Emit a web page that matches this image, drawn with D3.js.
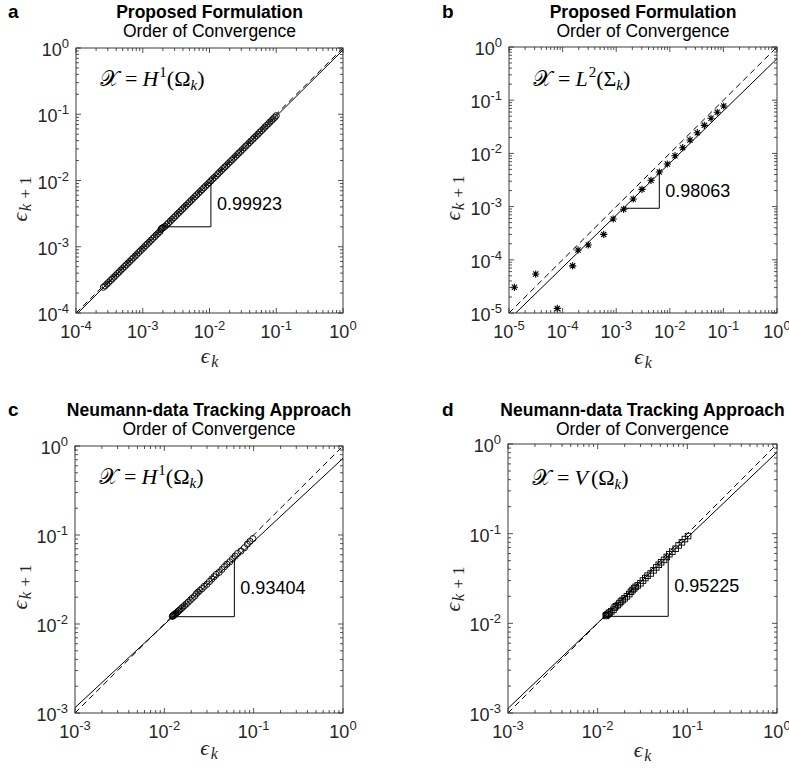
<!DOCTYPE html>
<html><head><meta charset="utf-8">
<script src="https://cdn.jsdelivr.net/npm/d3@7"></script>
<style>body{margin:0;background:#fff}svg{display:block}</style>
</head><body><svg id="c" width="789" height="773"></svg>
<script>
// ---------------- DATA ----------------
// panel a: error sequence eps_k (points are (eps_k, eps_{k+1}))
const seqA = [0.1000,0.0952,0.0899,0.0851,0.0803,0.0760,0.0716,0.0676,0.0640,0.0601,
0.0566,0.0535,0.0502,0.0473,0.0447,0.0420,0.0396,0.0373,0.0351,0.0331,
0.0312,0.0294,0.0276,0.0260,0.0245,0.0231,0.0217,0.0204,0.0192,0.0181,
0.0170,0.0160,0.0151,0.0142,0.0134,0.0126,0.0118,0.0111,0.0105,0.00985,
0.00928,0.00872,0.00821,0.00773,0.00727,0.00684,0.00644,0.00606,0.00570,0.00537,
0.00505,0.00476,0.00447,0.00421,0.00396,0.00373,0.00351,0.00330,0.00311,0.00292,
0.00275,0.00259,0.00244,0.00229,0.00216,0.00203,0.00196,0.00191,0.00187,0.00180,
0.00169,0.00159,0.00150,0.00141,0.00133,0.00125,0.00117,0.00110,0.00104,0.000978,
0.000920,0.000866,0.000815,0.000767,0.000721,0.000679,0.000639,0.000601,0.000566,0.000532,
0.000501,0.000471,0.000444,0.000417,0.000393,0.000370,0.000348,0.000327,0.000308,0.000290,
0.000273,0.000257,0.000245];
// panel b: explicit points
const bX = [1.26e-5,3.15e-5,7.96e-5,1.54e-4,1.94e-4,3.01e-4,5.85e-4,8.8e-4,1.38e-3,2.08e-3,3.03e-3,
4.46e-3,6.37e-3,8.97e-3,1.25e-2,1.74e-2,2.38e-2,3.26e-2,4.41e-2,5.88e-2,7.69e-2,0.1014];
const bY = [3.04e-5,5.4e-5,1.22e-5,7.7e-5,1.53e-4,1.9e-4,3.0e-4,5.85e-4,8.9e-4,1.39e-3,2.11e-3,
3.12e-3,4.47e-3,6.32e-3,9.05e-3,1.28e-2,1.79e-2,2.45e-2,3.37e-2,4.57e-2,5.93e-2,7.78e-2];
// panel c: error sequence
const seqC = [0.098,0.091,0.085,0.079,0.072,0.066,0.062,0.058,0.054,0.050,0.047,0.044,0.041,0.038,
0.036,0.034,0.032,0.030,0.028,0.0265,0.025,0.0238,0.0228,0.0218,0.0205,0.0195,0.0185,0.0176,0.0168,
0.0161,0.0155,0.0149,0.0144,0.0140,0.0136,0.0133,0.0130,0.0128,0.0126,0.0124,0.0123,0.0122];
// panel d: error sequence
const seqD = [0.102,0.094,0.087,0.080,0.074,0.068,0.063,0.059,0.055,0.051,0.048,0.045,0.042,0.039,
0.036,0.034,0.032,0.030,0.028,0.0265,0.0255,0.0245,0.0235,0.0225,0.0212,0.020,0.019,0.0182,0.0175,
0.0168,0.0160,0.0155,0.0150,0.0142,0.0136,0.0132,0.0128,0.0125,0.0123,0.0121];
// fit lines  y = C * x^p
const slopes = [0.99923, 0.98063, 0.93404, 0.95225];
const fitC = [0.933, 0.603, 0.728, 0.81];
// slope triangle anchors (horizontal leg level, vertical leg position)
const triY1 = [2.0e-3, 9.3e-4, 0.01208, 0.01197];
const triX2 = [1.05e-2, 6.37e-3, 0.0608, 0.0612];
// axis domains (exponents)
const domLo = [-4, -5, -3, -3];
const domHi = [0, 0, 0, 0];
const letters = ["a","b","c","d"];
const titles1 = ["Proposed Formulation","Proposed Formulation","Neumann-data Tracking Approach","Neumann-data Tracking Approach"];
const title2 = "Order of Convergence";
const markerType = ["circle","star","circle","square"];
// annotation segments: [text, style]
const annots = [
  [["𝒳","s"],["=","eq"],["H","i"],["1","sup"],["(Ω","n"],["k","sub"],[")","n"]],
  [["𝒳","s"],["=","eq"],["L","i"],["2","sup"],["(Σ","n"],["k","sub"],[")","n"]],
  [["𝒳","s"],["=","eq"],["H","i"],["1","sup"],["(Ω","n"],["k","sub"],[")","n"]],
  [["𝒳","s"],["=","eq"],["V","i"],["(Ω","n2"],["k","sub"],[")","n"]]
];

function pairs(seq){ const o=[]; for(let i=0;i<seq.length-1;i++) o.push([seq[i],seq[i+1]]); return o; }
const points = [pairs(seqA), bX.map((x,i)=>[x,bY[i]]), pairs(seqC), pairs(seqD)];

// ---------------- LAYOUT ----------------
const L = [
 {x0:76,x1:343,y0:48,y1:313, tY1:17.5,tY2:36.5, letX:8,  xlabY:363, ylabX:27,  ylabY:199, anY:86},
 {x0:509,x1:777,y0:47,y1:313, tY1:17.5,tY2:36.5, letX:442,xlabY:364, ylabX:460, ylabY:198, anY:86},
 {x0:75,x1:343,y0:446,y1:713, tY1:416,tY2:435, letX:8,  xlabY:755, ylabX:27,  ylabY:587, anY:484},
 {x0:508,x1:777,y0:444,y1:713, tY1:416,tY2:435, letX:442,xlabY:757, ylabX:460, ylabY:589, anY:485}
];
const AX = "#262626";
const SANS = "'Liberation Sans', Arial, Helvetica, sans-serif";
const SERIF = "'Liberation Serif', 'DejaVu Serif', serif";
const svg = d3.select("#c");

function tickLabel(g, x, y, exp, anchor){
  const t = g.append("text").attr("x",x).attr("y",y).attr("text-anchor",anchor)
    .attr("font-family",SANS).attr("font-size",18).attr("fill",AX);
  t.append("tspan").text("10");
  t.append("tspan").attr("dy",-8).attr("font-size",13).text(String(exp));
}

function epsLabel(g, sub, attrs, subSize){
  const t = g.append("text").attr("font-family",SERIF).attr("font-size",22).attr("fill",AX);
  Object.entries(attrs).forEach(([k,v])=>t.attr(k,v));
  t.append("tspan").attr("font-style","italic").text("ϵ");
  sub.forEach((s,i)=>{
    const ts=t.append("tspan").attr("font-size",subSize).text(s[0]);
    if(i===0) ts.attr("dy",4).attr("dx",1.5);
    if(s[1]) ts.attr("font-style","italic");
    if(s[2]) ts.attr("dx",s[2]);
  });
  return t;
}

points.forEach((pts, i) => {
  const b = L[i];
  const g = svg.append("g");
  const x = d3.scaleLog().domain([10**domLo[i], 10**domHi[i]]).range([b.x0, b.x1]);
  const y = d3.scaleLog().domain([10**domLo[i], 10**domHi[i]]).range([b.y1, b.y0]);
  const cx = (b.x0+b.x1)/2;

  // titles
  g.append("text").attr("x",b.letX).attr("y",b.tY1).attr("font-family",SANS).attr("font-weight","bold")
    .attr("font-size",19).attr("fill","#000").text(letters[i]);
  g.append("text").attr("x",cx).attr("y",b.tY1).attr("text-anchor","middle").attr("font-family",SANS)
    .attr("font-weight","bold").attr("font-size",17.5).attr("fill","#000").text(titles1[i]);
  g.append("text").attr("x",cx).attr("y",b.tY2).attr("text-anchor","middle").attr("font-family",SANS)
    .attr("font-size",17.5).attr("fill","#000").text(title2);

  // clip
  const cid = "clip"+i;
  svg.append("clipPath").attr("id",cid).append("rect").attr("x",b.x0).attr("y",b.y0)
    .attr("width",b.x1-b.x0).attr("height",b.y1-b.y0);
  const plot = g.append("g").attr("clip-path",`url(#${cid})`);

  // markers
  const mk = plot.append("g").attr("stroke","#000").attr("fill","none").attr("stroke-width",0.9);
  pts.forEach(([px,py])=>{
    const X=x(px), Y=y(py);
    if(markerType[i]==="circle"){
      mk.append("circle").attr("cx",X).attr("cy",Y).attr("r",3.1);
    } else if(markerType[i]==="square"){
      mk.append("rect").attr("x",X-2.8).attr("y",Y-2.8).attr("width",5.6).attr("height",5.6);
    } else {
      const r=3.6, d=r*0.72;
      mk.append("path").attr("stroke-width",1.1)
        .attr("d",`M${X-r},${Y}H${X+r}M${X},${Y-r}V${Y+r}M${X-d},${Y-d}L${X+d},${Y+d}M${X-d},${Y+d}L${X+d},${Y-d}`);
    }
  });

  // dashed identity line and fit line
  const lo = 10**domLo[i], hi = 10**domHi[i];
  const line = d3.line().x(d=>x(d[0])).y(d=>y(d[1]));
  plot.append("path").attr("d",line([[lo,lo],[hi,hi]])).attr("stroke","#000").attr("stroke-width",1)
    .attr("stroke-dasharray","6,4").attr("fill","none");
  const p = slopes[i], C = fitC[i];
  const fx0 = lo/10;
  plot.append("path").attr("d",line([[fx0, C*fx0**p],[hi, C*hi**p]])).attr("stroke","#000")
    .attr("stroke-width",1).attr("fill","none");

  // slope triangle
  const y1 = triY1[i], x2 = triX2[i];
  const x1 = (y1/C)**(1/p), y2 = C*x2**p;
  g.append("path").attr("d",`M${x(x1)},${y(y1)}H${x(x2)}V${y(y2)}`).attr("stroke","#000")
    .attr("stroke-width",1).attr("fill","none");
  g.append("text").attr("x",x(x2)+6).attr("y",(y(y1)+y(y2))/2+6).attr("font-family",SANS)
    .attr("font-size",18).attr("fill","#000").text(slopes[i].toFixed(5));

  // box
  g.append("rect").attr("x",b.x0).attr("y",b.y0).attr("width",b.x1-b.x0).attr("height",b.y1-b.y0)
    .attr("fill","none").attr("stroke",AX).attr("stroke-width",0.9);

  // ticks
  const tk = g.append("g").attr("stroke",AX).attr("stroke-width",0.8);
  for(let e=domLo[i]; e<=domHi[i]; e++){
    for(let m=1;m<=9;m++){
      const v = m*10**e;
      if(v>hi*1.0001) break;
      const len = m===1?5:3;
      const X=x(v), Y=y(v);
      tk.append("line").attr("x1",X).attr("x2",X).attr("y1",b.y1).attr("y2",b.y1-len);
      tk.append("line").attr("x1",X).attr("x2",X).attr("y1",b.y0).attr("y2",b.y0+len);
      tk.append("line").attr("y1",Y).attr("y2",Y).attr("x1",b.x0).attr("x2",b.x0+len);
      tk.append("line").attr("y1",Y).attr("y2",Y).attr("x1",b.x1).attr("x2",b.x1-len);
    }
    tickLabel(g, x(10**e), b.y1+25, e, "middle");
    tickLabel(g, b.x0-7, y(10**e)+8, e, "end");
  }

  // axis labels
  epsLabel(g, [["k",true]], {x:cx, y:b.xlabY, "text-anchor":"middle"}, 16);
  epsLabel(g, [["k",true],["+",false,5],["1",false,4]],
    {x:0, y:0, "text-anchor":"middle", transform:`translate(${b.ylabX},${b.ylabY}) rotate(-90)`}, 17);

  // annotation
  const at = g.append("text").attr("x",b.x0+16).attr("y",b.anY).attr("font-family",SERIF)
    .attr("font-size",22).attr("fill","#000");
  let shift = 0;
  annots[i].forEach(([s,st])=>{
    const ts = at.append("tspan").text(s);
    let sh = 0;
    if(st==="i") ts.attr("font-style","italic").attr("dx",5);
    if(st==="eq") ts.attr("dx",6);
    if(st==="n2") ts.attr("dx",3);
    if(st==="s") ts.attr("font-family","'DejaVu Serif', 'DejaVu Sans', serif").attr("dx",8);
    if(st==="sup"){ sh=-9; ts.attr("font-size",15).attr("dx",1); }
    if(st==="sub"){ sh=4; ts.attr("font-size",15).attr("font-style","italic"); }
    if(sh!==shift) ts.attr("dy", sh-shift);
    shift = sh;
  });
});
</script>
</body></html>
